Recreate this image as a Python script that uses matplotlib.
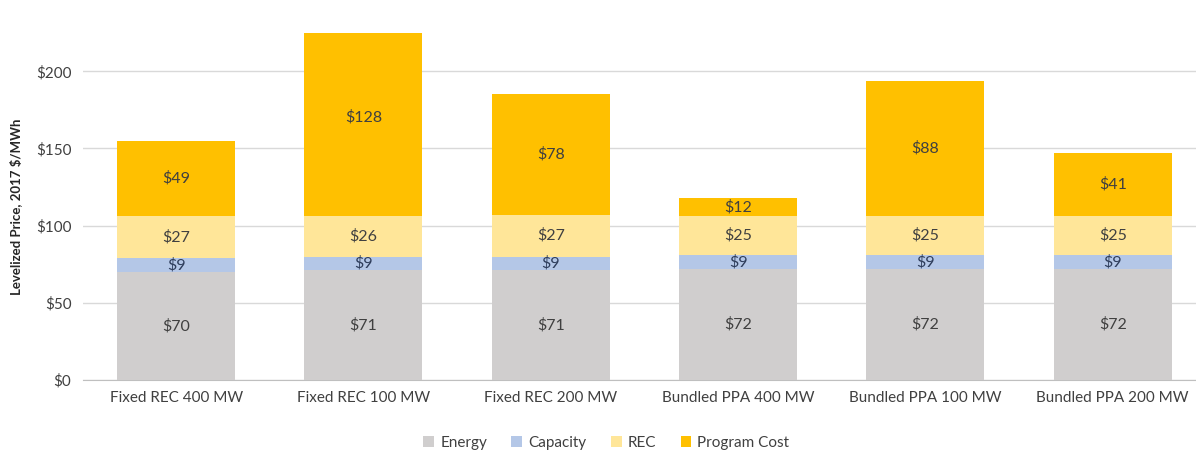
import matplotlib.pyplot as plt
import numpy as np

categories = ['Fixed REC 400 MW', 'Fixed REC 100 MW', 'Fixed REC 200 MW',
              'Bundled PPA 400 MW', 'Bundled PPA 100 MW', 'Bundled PPA 200 MW']
energy = [70, 71, 71, 72, 72, 72]
capacity = [9, 9, 9, 9, 9, 9]
rec = [27, 26, 27, 25, 25, 25]
program = [49, 128, 78, 12, 88, 41]

series = [('Energy', energy, '#D0CECE', '#404040'),
          ('Capacity', capacity, '#B4C7E7', '#2F3E5C'),
          ('REC', rec, '#FFE699', '#404040'),
          ('Program Cost', program, '#FFC000', '#404040')]

plt.rcParams['font.family'] = ['Lato', 'DejaVu Sans']

fig = plt.figure(figsize=(11.96, 4.54), dpi=100)
ax = fig.add_axes([0.069, 0.163, 0.935, 0.765])

x = np.arange(len(categories))
bottom = np.zeros(len(categories))
for name, vals, color, tcolor in series:
    vals = np.array(vals, dtype=float)
    ax.bar(x, vals, 0.63, bottom=bottom, color=color, label=name, zorder=3)
    for xi, b, v in zip(x, bottom, vals):
        ax.text(xi, b + v / 2, '$%d' % v, ha='center', va='center',
                fontsize=11.5, color=tcolor, zorder=4)
    bottom += vals

ax.set_ylim(0, 225)
ax.set_xlim(-0.5, 5.47)
ax.set_yticks([0, 50, 100, 150, 200])
ax.set_yticklabels(['$0', '$50', '$100', '$150', '$200'])
ax.set_xticks(x)
ax.set_xticklabels(categories)
ax.tick_params(axis='both', length=0, labelsize=11, colors='#404040', pad=8)
ax.yaxis.grid(True, color='#D9D9D9', linewidth=1, zorder=0)
for s in ['top', 'right', 'left']:
    ax.spines[s].set_visible(False)
ax.spines['bottom'].set_color('#BFBFBF')
ax.set_ylabel('Levelized Price, 2017 $/MWh', fontsize=9.5, fontweight='bold',
              color='#262626', labelpad=10)

fig.legend(loc='center', bbox_to_anchor=(0.507, 0.024), ncol=4, frameon=False,
           fontsize=11, handlelength=0.7, handleheight=0.7, handletextpad=0.4,
           columnspacing=1.6, labelcolor='#404040')

fig.savefig('out.png', dpi=100)
